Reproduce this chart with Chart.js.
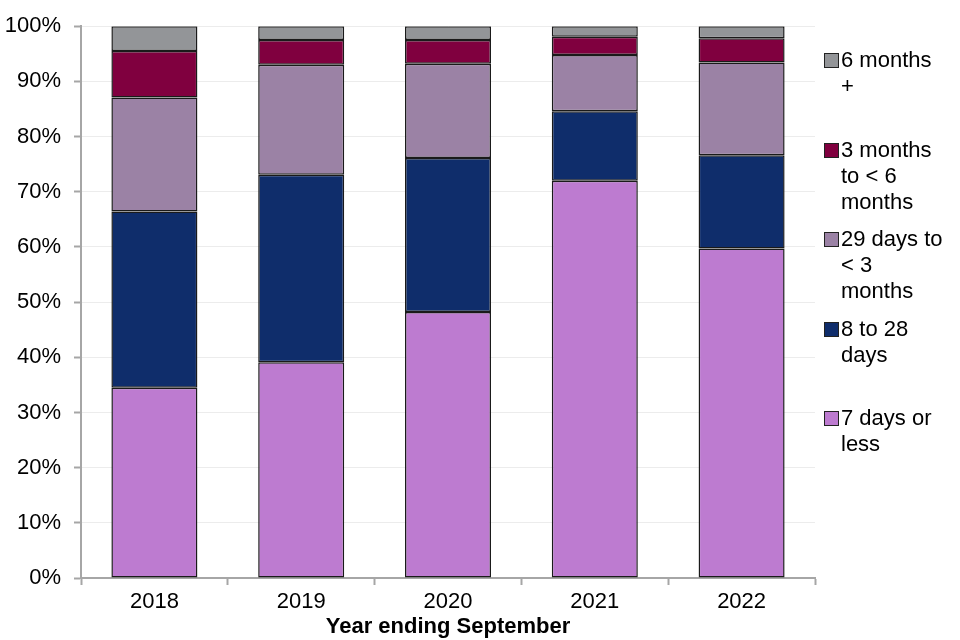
<!DOCTYPE html>
<html>
<head>
<meta charset="utf-8">
<script src="https://cdn.jsdelivr.net/npm/chart.js@4.4.1/dist/chart.umd.min.js"></script>
<style>
    body { margin: 0; background: #fff; }
    #wrap { position: relative; width: 960px; height: 640px; }
    #legend { position: absolute; left: 824px; top: 47px; font-family: 'Liberation Sans', Arial, sans-serif; font-size: 22px; color: #000; }
    .item { position: relative; height: 89.5px; padding-left: 17px; line-height: 26px; }
    .box { position: absolute; left: 0; top: 6px; width: 13px; height: 13px; border: 1px solid #222; }
</style>
</head>
<body>
<div id="wrap">
    <canvas id="chart" width="960" height="640"></canvas>
    <div id="legend"></div>
</div>
<script>
// Datos (porcentajes)
const years = ['2018', '2019', '2020', '2021', '2022'];
const sevenDaysOrLess = [34.5, 39.1, 48.2, 72.0, 59.7];
const eightTo28Days = [31.9, 34.0, 27.9, 12.6, 16.9];
const days29To3Months = [20.7, 19.9, 17.1, 10.2, 16.8];
const months3To6 = [8.4, 4.5, 4.3, 3.3, 4.4];
const sixMonthsPlus = [4.5, 2.5, 2.5, 1.9, 2.2];

const seriesNames = ['7 days or less', '8 to 28 days', '29 days to < 3 months', '3 months to < 6 months', '6 months +'];
// how the legend wraps each name
const legendLines = [['7 days or', 'less'], ['8 to 28', 'days'], ['29 days to', '< 3', 'months'], ['3 months', 'to < 6', 'months'], ['6 months', '+']];
const seriesColors = ['#BD7BD0', '#0F2D6B', '#9B82A5', '#80003F', '#939598'];
const seriesData = [sevenDaysOrLess, eightTo28Days, days29To3Months, months3To6, sixMonthsPlus];

const font = { family: "'Liberation Sans', Arial, sans-serif", size: 22 };

const datasets = seriesData.map((data, i) => ({
    label: seriesNames[i],
    data: data,
    backgroundColor: seriesColors[i],
    borderColor: '#1a1a1a',
    borderWidth: 1.5,
    borderSkipped: false,
    categoryPercentage: 1,
    barPercentage: 0.586
}));

new Chart(document.getElementById('chart'), {
    type: 'bar',
    data: { labels: years, datasets: datasets },
    options: {
        responsive: false,
        animation: false,
        layout: { padding: { top: 21, right: 145, left: 0, bottom: 0 } },
        plugins: { legend: { display: false }, tooltip: { enabled: false } },
        scales: {
            x: {
                stacked: true,
                grid: { drawOnChartArea: false, tickLength: 7, tickColor: '#a6a6a6', tickWidth: 2 },
                border: { color: '#a6a6a6', width: 2 },
                ticks: { color: '#000', font: font, padding: 4 },
                title: {
                    display: true,
                    text: 'Year ending September',
                    color: '#000',
                    font: { family: font.family, size: 22, weight: 'bold' },
                    padding: { top: -6, bottom: 0 }
                },
                afterFit: scale => { scale.height = 62; }
            },
            y: {
                stacked: true,
                min: 0,
                max: 100,
                grid: { color: '#ececec', lineWidth: 1, tickLength: 7, tickColor: '#a6a6a6', tickWidth: 2 },
                border: { color: '#a6a6a6', width: 2 },
                ticks: { stepSize: 10, color: '#000', font: font, padding: 13, callback: v => v + '%' },
                afterFit: scale => { scale.width = 81; }
            }
        }
    }
});

// Leyenda en HTML, orden inverso como en el original
const legend = document.getElementById('legend');
for (let i = seriesNames.length - 1; i >= 0; i--) {
    const item = document.createElement('div');
    item.className = 'item';
    item.innerHTML = '<span class="box" style="background:' + seriesColors[i] + '"></span>' +
        legendLines[i].map(t => t.replace(/</g, '&lt;')).join('<br>');
    legend.appendChild(item);
}
</script>
</body>
</html>
